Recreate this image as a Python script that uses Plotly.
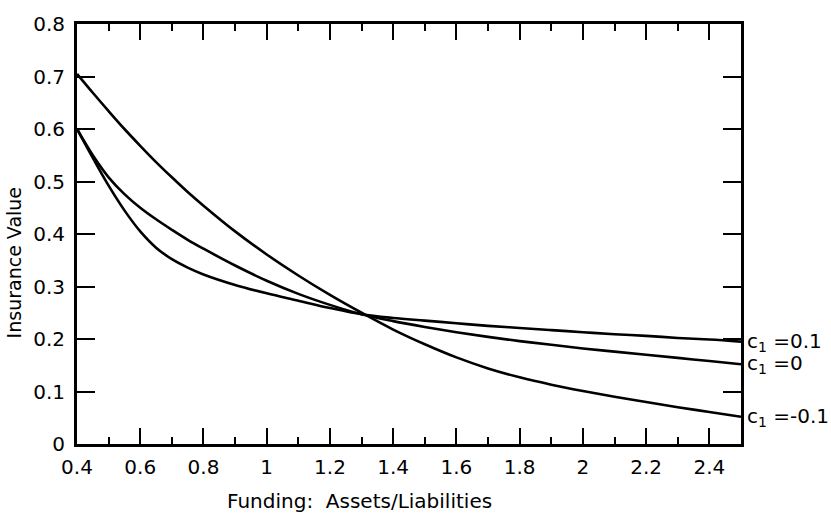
import plotly.graph_objects as go

funding = [0.4, 0.45, 0.5, 0.55, 0.6, 0.65, 0.7, 0.75, 0.8, 0.9, 1.0, 1.1, 1.2, 1.3,
           1.4, 1.5, 1.6, 1.7, 1.8, 1.9, 2.0, 2.1, 2.2, 2.3, 2.4, 2.5]

value_c1_pos = [0.600, 0.545, 0.492, 0.445, 0.405, 0.374, 0.352, 0.336, 0.323, 0.303, 0.287,
                0.273, 0.259, 0.247, 0.240, 0.235, 0.230, 0.225, 0.221, 0.217, 0.213,
                0.209, 0.206, 0.202, 0.199, 0.195]
value_c1_zero = [0.600, 0.550, 0.508, 0.476, 0.450, 0.428, 0.408, 0.389, 0.372, 0.340, 0.311,
                 0.286, 0.265, 0.247, 0.234, 0.223, 0.213, 0.204, 0.196, 0.189, 0.182,
                 0.176, 0.170, 0.164, 0.158, 0.152]
value_c1_neg = [0.705, 0.669, 0.634, 0.600, 0.568, 0.537, 0.508, 0.480, 0.454, 0.405, 0.361,
                0.321, 0.284, 0.250, 0.218, 0.190, 0.165, 0.144, 0.127, 0.113, 0.101,
                0.090, 0.080, 0.070, 0.061, 0.052]

series_labels = ["c<sub>1</sub> =0.1", "c<sub>1</sub> =0", "c<sub>1</sub> =-0.1"]
series_values = [value_c1_pos, value_c1_zero, value_c1_neg]

x_tickvals = [0.4, 0.6, 0.8, 1.0, 1.2, 1.4, 1.6, 1.8, 2.0, 2.2, 2.4]
x_ticktext = ["0.4", "0.6", "0.8", "1", "1.2", "1.4", "1.6", "1.8", "2", "2.2", "2.4"]
y_tickvals = [0, 0.1, 0.2, 0.3, 0.4, 0.5, 0.6, 0.7, 0.8]
y_ticktext = ["0", "0.1", "0.2", "0.3", "0.4", "0.5", "0.6", "0.7", "0.8"]

FONT = "DejaVu Sans"

fig = go.Figure()
for lab, vals in zip(series_labels, series_values):
    fig.add_trace(go.Scatter(x=funding, y=vals, mode="lines",
                             line=dict(color="black", width=2.6, shape="spline", smoothing=1.0),
                             showlegend=False, hoverinfo="skip"))
    fig.add_annotation(x=funding[-1], y=vals[-1], xref="x", yref="y", text=lab,
                       showarrow=False, xanchor="left", yanchor="middle", xshift=4,
                       font=dict(family=FONT, size=20, color="black"))

fig.update_layout(
    width=831, height=522,
    margin=dict(l=77, r=90, t=13, b=78),
    paper_bgcolor="white", plot_bgcolor="white",
    font=dict(family=FONT, size=20, color="black"),
)
fig.update_xaxes(range=[0.4, 2.5], tickvals=x_tickvals, ticktext=x_ticktext,
                 ticks="inside", ticklen=16, tickwidth=2, tickcolor="black",
                 minor=dict(dtick=0.1, tick0=0.4, ticks="inside", ticklen=7, tickwidth=2, tickcolor="black"),
                 showline=True, linecolor="black", linewidth=3, mirror="ticks",
                 showgrid=False, zeroline=False, ticklabelstandoff=3,
                 tickfont=dict(family=FONT, size=20))
fig.update_yaxes(range=[0, 0.8], tickvals=y_tickvals, ticktext=y_ticktext,
                 ticks="inside", ticklen=18, tickwidth=2, tickcolor="black",
                 showline=True, linecolor="black", linewidth=3, mirror="ticks",
                 showgrid=False, zeroline=False, ticklabelstandoff=5,
                 tickfont=dict(family=FONT, size=20))

fig.add_annotation(text="Funding:  Assets/Liabilities", xref="paper", yref="paper",
                   x=0.425, y=0, yshift=-57, showarrow=False, xanchor="center", yanchor="middle",
                   font=dict(family=FONT, size=20, color="black"))
fig.add_annotation(text="Insurance Value", xref="paper", yref="paper",
                   x=0, y=0.43, xshift=-63, textangle=-90, showarrow=False,
                   xanchor="center", yanchor="middle",
                   font=dict(family=FONT, size=19, color="black"))

fig.write_html("out.html")
